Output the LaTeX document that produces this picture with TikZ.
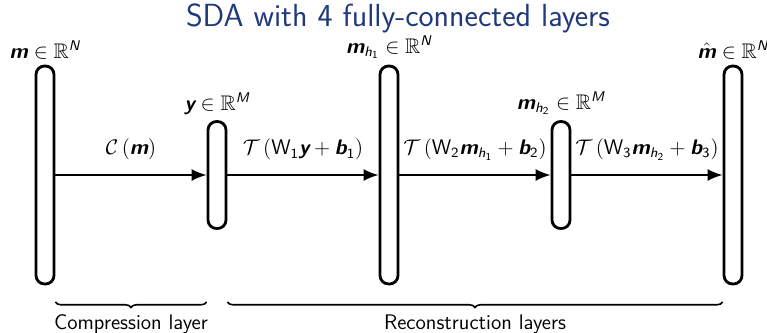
\documentclass[tikz,border=0pt]{standalone}
\usepackage{amsmath,amssymb}
\newcommand{\vbf}[1]{\text{\sffamily\bfseries\slshape #1}}
\newcommand{\vsi}[1]{\text{\sffamily\slshape #1}}
\newcommand{\vsn}[1]{\text{\sffamily #1}}
\definecolor{titleblue}{RGB}{33,56,123}
\usetikzlibrary{positioning, arrows.meta, decorations.pathreplacing}

\begin{document}
\begin{tikzpicture}[
  x=0.02cm, y=-0.02cm,
  font=\sffamily\large,
  tallbar/.style={rectangle, draw, line width=1.6pt, rounded corners=0.17cm,
                  minimum width=0.36cm, minimum height=4.36cm, inner sep=0pt},
  shortbar/.style={tallbar, minimum height=2.14cm},
  veclabel/.style={above=2pt of #1, inner sep=1pt},
  flow/.style={-{Latex[length=0.3cm, width=0.24cm]}, line width=1.1pt},
  flowlabel/.style={midway, above=0.16cm},
  underbrace/.style={decorate, decoration={brace, mirror, amplitude=0.11cm}, line width=0.9pt},
]
  \useasboundingbox (0,0) rectangle (767,332);

  % Title
  \node[font=\sffamily\fontsize{18.2}{22}\selectfont, text=titleblue, inner sep=0pt] (title) at (398,18) {SDA with 4 fully-connected layers};

  % Layers
  \node[tallbar]  (m)  at (45,175)  {};
  \node[shortbar] (y)  at (217,175) {};
  \node[tallbar]  (h1) at (389,175) {};
  \node[shortbar] (h2) at (561,175) {};
  \node[tallbar]  (mh) at (733,175) {};

  % Dimensions
  \node[veclabel=m]  (mlab)  {$\vbf{m} \in \mathbb{R}^{\vsi{N}}$};
  \node[veclabel=y]  (ylab)  {$\vbf{y} \in \mathbb{R}^{\vsi{M}}$};
  \node[veclabel=h1] (h1lab) {$\vbf{m}_{\vsi{h}_{\vsn{1}}} \in \mathbb{R}^{\vsi{N}}$};
  \node[veclabel=h2] (h2lab) {$\vbf{m}_{\vsi{h}_{\vsn{2}}} \in \mathbb{R}^{\vsi{M}}$};
  \node[veclabel=mh] (mhlab) {$\hat{\vbf{m}} \in \mathbb{R}^{\vsi{N}}$};

  % Mappings
  \draw[flow] (m.east) -- (y.west) node[flowlabel] {$\mathcal{C}\left(\vbf{m}\right)$};
  \draw[flow] (y.east) -- (h1.west) node[flowlabel]
    {$\mathcal{T}\left(\mathsf{W}_{\vsn{1}}\vbf{y} + \vbf{b}_{\vsn{1}}\right)$};
  \draw[flow] (h1.east) -- (h2.west) node[flowlabel]
    {$\mathcal{T}\left(\mathsf{W}_{\vsn{2}}\vbf{m}_{\vsi{h}_{\vsn{1}}} + \vbf{b}_{\vsn{2}}\right)$};
  \draw[flow] (h2.east) -- (mh.west) node[flowlabel]
    {$\mathcal{T}\left(\mathsf{W}_{\vsn{3}}\vbf{m}_{\vsi{h}_{\vsn{2}}} + \vbf{b}_{\vsn{3}}\right)$};

  % Braces
  \coordinate (bracey) at (0,302);
  \draw[underbrace] (m.east |- bracey) -- (y.west |- bracey)
    node[midway, below=0.12cm] (comp) {Compression layer};
  \draw[underbrace] (y.east |- bracey) -- (mh.west |- bracey)
    node[midway, below=0.12cm] (recon) {Reconstruction layers};
\end{tikzpicture}
\end{document}
